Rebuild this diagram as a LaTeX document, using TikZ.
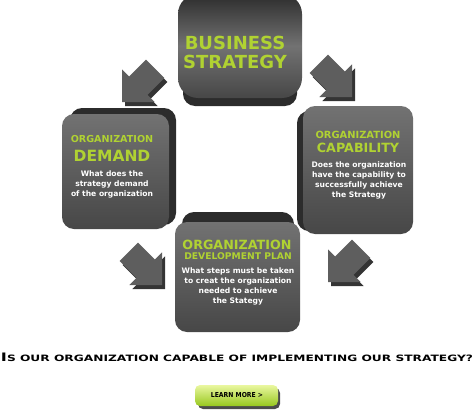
\documentclass[tikz,border=0pt]{standalone}
\usepackage{graphicx}
\usepackage{fontspec}
\setmainfont{DejaVu Sans}
\newfontfamily\condfont{DejaVu Sans Condensed}
\definecolor{boxtop}{HTML}{727272}
\definecolor{boxbot}{HTML}{474747}
\definecolor{boxside}{HTML}{2C2C2C}
\definecolor{arrowface}{HTML}{5E5E5E}
\definecolor{arrowside}{HTML}{343434}
\definecolor{titlegreen}{HTML}{B0D232}
\definecolor{btntop}{HTML}{EAF7A0}
\definecolor{btnbot}{HTML}{97C81E}
\tikzset{
  title/.style={text=titlegreen, inner sep=0pt, font=\bfseries\fontsize{#1}{#1}\selectfont},
  body/.style={text=white, inner sep=0pt, align=center, font=\bfseries\fontsize{7.6}{10}\selectfont},
  front/.style={rounded corners=12pt, top color=boxtop, bottom color=boxbot},
  side/.style={rounded corners=12pt, fill=boxside},
}
\begin{document}
\begin{tikzpicture}[x=1pt,y=-1pt]
	\useasboundingbox (0,0) rectangle (474,415);

	% BLOCK ARROWS
	\foreach \tx/\ty/\rot in {122/102/225, 352/97/315, 328/282/225, 162/285/315} {
		\fill[arrowside, shift={(\tx+3,\ty+4)}, rotate=\rot] (0,0) -- (-23,23) -- (-23,13) -- (-47,13) -- (-47,-13) -- (-23,-13) -- (-23,-23) -- cycle;
		\fill[arrowface, shift={(\tx,\ty)}, rotate=\rot] (0,0) -- (-23,23) -- (-23,13) -- (-47,13) -- (-47,-13) -- (-23,-13) -- (-23,-23) -- cycle;
	}

	% BUSINESS STRATEGY
	\fill[side] (183,8) rectangle (297,106);
	\shade[front, rounded corners=20pt, top color=boxside, bottom color=boxbot, middle color=boxtop] (178,-6) rectangle (302,98);
	\node[title=18] (bs1) at (235,42.5) {BUSINESS};
	\node[title=18] (bs2) at (235,61.5) {STRATEGY};

	% ORGANIZATION DEMAND
	\fill[side] (70,108) rectangle (176,225);
	\shade[front] (62,114) rectangle (169,229);
	\node[title=9.6] (od1) at (112,139.5) {ORGANIZATION};
	\node[title=15.5] (od2) at (112,155.5) {DEMAND};
	\node[body] (odtext) at (112,184) {What does the\\strategy demand\\of the organization};

	% ORGANIZATION CAPABILITY
	\fill[side] (297,111) rectangle (405,231);
	\shade[front] (303,106) rectangle (413,234);
	\node[title=9.9] (oc1) at (358,135) {ORGANIZATION};
	\node[title=12.7] (oc2) at (358,147.5) {CAPABILITY};
	\node[body] (octext) at (359,180) {Does the organization\\have the capability to\\successfully achieve\\the Strategy};

	% ORGANIZATION DEVELOPMENT PLAN
	\fill[side] (182,212) rectangle (294,300);
	\shade[front] (175,222) rectangle (300,332);
	\node[title=12.7] (op1) at (237,244.5) {ORGANIZATION};
	\node[title=9.2] (op2) at (238,256) {DEVELOPMENT PLAN};
	\node[body] (optext) at (238,286) {What steps must be taken\\to creat the organization\\needed to achieve\\the Stategy};

	% QUESTION AND BUTTON
	\node[inner sep=0pt] (question) at (237,357) {\resizebox{472pt}{8.5pt}{\bfseries{\fontsize{12}{12}\selectfont I}{\fontsize{9}{9}\selectfont S OUR ORGANIZATION CAPABLE OF IMPLEMENTING OUR STRATEGY?}}};
	\fill[rounded corners=5pt, black!70] (198,388) rectangle (280,409);
	\shade[rounded corners=5pt, top color=btntop, bottom color=btnbot] (195,385) rectangle (278,406);
	\node[inner sep=0pt, font=\condfont\bfseries\fontsize{6.8}{6.8}\selectfont] (learn) at (237,395.5) {LEARN MORE >};
\end{tikzpicture}
\end{document}
